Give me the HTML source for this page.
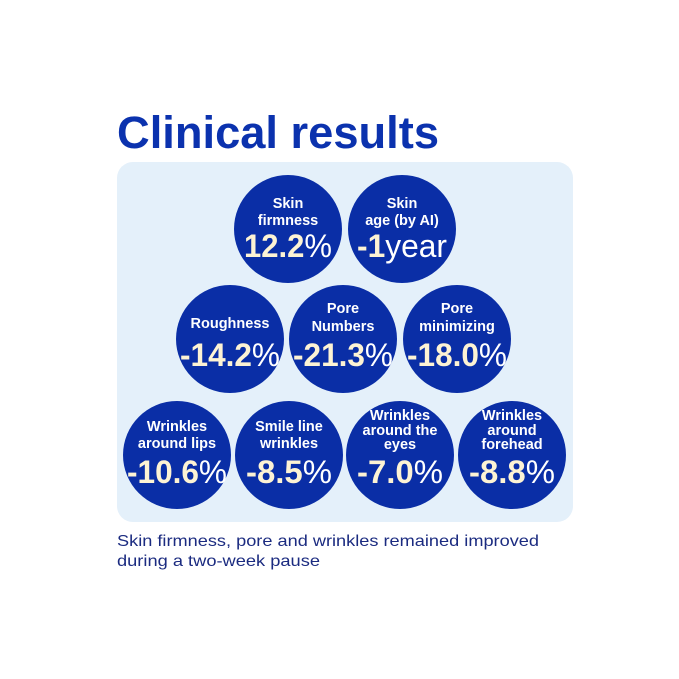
<!DOCTYPE html>
<html><head><meta charset="utf-8"><style>
html,body{margin:0;padding:0;background:#fff;}
svg{display:block;}
text{font-family:"Liberation Sans",sans-serif;}
.l{fill:#fff;font-size:14.5px;font-weight:bold;text-anchor:middle;}
.n{fill:#fdf3d4;font-size:32px;font-weight:bold;text-anchor:middle;}
.p{font-weight:normal;fill:#fff;}
</style></head><body>
<svg width="679" height="679" viewBox="0 0 679 679">
<rect width="679" height="679" fill="#fff"/>
<text x="117" y="148" font-size="45" font-weight="bold" fill="#0b32ae" textLength="322" lengthAdjust="spacingAndGlyphs">Clinical results</text>
<rect x="117" y="162" width="456" height="360" rx="16" fill="#e4f0fa"/>
<g fill="#0a2ea6">
<circle cx="288" cy="229" r="54"/><circle cx="402" cy="229" r="54"/>
<circle cx="230" cy="339" r="54"/><circle cx="343" cy="339" r="54"/><circle cx="457" cy="339" r="54"/>
<circle cx="177" cy="455" r="54"/><circle cx="289" cy="455" r="54"/><circle cx="400" cy="455" r="54"/><circle cx="512" cy="455" r="54"/>
</g>
<text class="l" x="288" y="208">Skin</text><text class="l" x="288" y="225">firmness</text>
<text class="n" x="288" y="257" textLength="88" lengthAdjust="spacingAndGlyphs">12.2<tspan class="p">%</tspan></text>
<text class="l" x="402" y="208">Skin</text><text class="l" x="402" y="225">age (by AI)</text>
<text class="n" x="402" y="257" textLength="90" lengthAdjust="spacingAndGlyphs">-1<tspan class="p">year</tspan></text>

<text class="l" x="230" y="328">Roughness</text>
<text class="n" x="230" y="366" textLength="100" lengthAdjust="spacingAndGlyphs">-14.2<tspan class="p">%</tspan></text>
<text class="l" x="343" y="313">Pore</text><text class="l" x="343" y="331">Numbers</text>
<text class="n" x="343" y="366" textLength="100" lengthAdjust="spacingAndGlyphs">-21.3<tspan class="p">%</tspan></text>
<text class="l" x="457" y="313">Pore</text><text class="l" x="457" y="331">minimizing</text>
<text class="n" x="457" y="366" textLength="100" lengthAdjust="spacingAndGlyphs">-18.0<tspan class="p">%</tspan></text>

<text class="l" x="177" y="431">Wrinkles</text><text class="l" x="177" y="448">around lips</text>
<text class="n" x="177" y="483" textLength="100" lengthAdjust="spacingAndGlyphs">-10.6<tspan class="p">%</tspan></text>
<text class="l" x="289" y="431">Smile line</text><text class="l" x="289" y="448">wrinkles</text>
<text class="n" x="289" y="483" textLength="86" lengthAdjust="spacingAndGlyphs">-8.5<tspan class="p">%</tspan></text>
<text class="l" x="400" y="420" font-size="13">Wrinkles</text><text class="l" x="400" y="435" font-size="13">around the</text><text class="l" x="400" y="449" font-size="13">eyes</text>
<text class="n" x="400" y="483" textLength="86" lengthAdjust="spacingAndGlyphs">-7.0<tspan class="p">%</tspan></text>
<text class="l" x="512" y="420" font-size="13">Wrinkles</text><text class="l" x="512" y="435" font-size="13">around</text><text class="l" x="512" y="449" font-size="13">forehead</text>
<text class="n" x="512" y="483" textLength="86" lengthAdjust="spacingAndGlyphs">-8.8<tspan class="p">%</tspan></text>

<text x="117" y="546" font-size="16" fill="#1b2b80" textLength="422" lengthAdjust="spacingAndGlyphs">Skin firmness, pore and wrinkles remained improved</text>
<text x="117" y="566" font-size="16" fill="#1b2b80" textLength="203" lengthAdjust="spacingAndGlyphs">during a two-week pause</text>
</svg>
</body></html>
